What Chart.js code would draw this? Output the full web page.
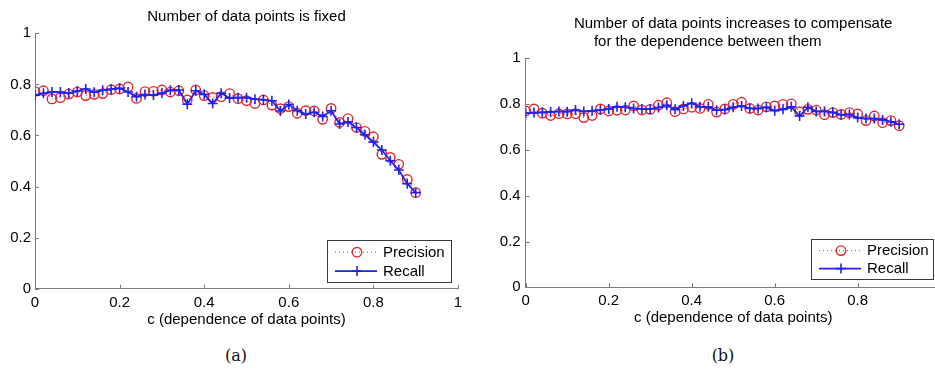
<!DOCTYPE html>
<html>
<head>
<meta charset="utf-8">
<script src="https://cdn.jsdelivr.net/npm/chart.js@4.4.0/dist/chart.umd.min.js"></script>
<style>
  html, body { margin: 0; padding: 0; background: #fff; }
  body { width: 935px; height: 371px; position: relative; overflow: hidden; }
  canvas { position: absolute; top: 0; }
  #chartA { left: 0; }
  #chartB { left: 490px; }
  .cap { position: absolute; top: 346px; width: 60px; text-align: center;
         font-family: 'DejaVu Serif', 'Liberation Serif', serif; font-size: 16px; color: #111; }
</style>
</head>
<body>
<canvas id="chartA" width="470" height="340"></canvas>
<canvas id="chartB" width="460" height="340"></canvas>
<div class="cap" style="left:206px">(a)</div>
<div class="cap" style="left:693px">(b)</div>
<script>
// c (dependence of data points)
const cValues = [0, 0.02, 0.04, 0.06, 0.08, 0.10, 0.12, 0.14, 0.16, 0.18,
  0.20, 0.22, 0.24, 0.26, 0.28, 0.30, 0.32, 0.34, 0.36, 0.38,
  0.40, 0.42, 0.44, 0.46, 0.48, 0.50, 0.52, 0.54, 0.56, 0.58,
  0.60, 0.62, 0.64, 0.66, 0.68, 0.70, 0.72, 0.74, 0.76, 0.78,
  0.80, 0.82, 0.84, 0.86, 0.88, 0.90];

// (a) number of data points is fixed
const precisionFixed = [0.772, 0.775, 0.743, 0.748, 0.762, 0.770, 0.756, 0.761, 0.764, 0.779,
  0.782, 0.790, 0.745, 0.772, 0.773, 0.778, 0.770, 0.775, 0.739, 0.778,
  0.756, 0.749, 0.752, 0.764, 0.744, 0.736, 0.725, 0.739, 0.719, 0.705,
  0.713, 0.687, 0.697, 0.696, 0.663, 0.706, 0.651, 0.666, 0.631, 0.616,
  0.595, 0.526, 0.514, 0.487, 0.428, 0.376];
const recallFixed = [0.758, 0.765, 0.770, 0.770, 0.766, 0.774, 0.782, 0.769, 0.777, 0.781,
  0.785, 0.770, 0.752, 0.760, 0.758, 0.766, 0.777, 0.778, 0.722, 0.775,
  0.761, 0.725, 0.765, 0.747, 0.748, 0.748, 0.742, 0.740, 0.736, 0.696,
  0.721, 0.697, 0.684, 0.691, 0.674, 0.697, 0.645, 0.653, 0.631, 0.603,
  0.574, 0.543, 0.501, 0.465, 0.411, 0.376];

// (b) number of data points increases
const precisionGrow = [0.770, 0.779, 0.760, 0.750, 0.758, 0.757, 0.758, 0.741, 0.750, 0.779,
  0.770, 0.773, 0.774, 0.792, 0.774, 0.777, 0.795, 0.806, 0.767, 0.779,
  0.786, 0.781, 0.799, 0.765, 0.779, 0.799, 0.808, 0.781, 0.774, 0.788,
  0.792, 0.799, 0.801, 0.767, 0.777, 0.774, 0.754, 0.763, 0.755, 0.763,
  0.757, 0.728, 0.748, 0.719, 0.728, 0.706];
const recallGrow = [0.760, 0.763, 0.764, 0.766, 0.768, 0.767, 0.774, 0.768, 0.771, 0.774,
  0.779, 0.788, 0.786, 0.781, 0.779, 0.779, 0.785, 0.795, 0.777, 0.792,
  0.804, 0.788, 0.788, 0.773, 0.776, 0.786, 0.792, 0.781, 0.781, 0.786,
  0.771, 0.777, 0.788, 0.748, 0.786, 0.768, 0.768, 0.764, 0.753, 0.755,
  0.741, 0.737, 0.737, 0.731, 0.723, 0.712];

const xTicks = [0, 0.2, 0.4, 0.6, 0.8, 1];
const yTicks = [0, 0.2, 0.4, 0.6, 0.8, 1];
const xLabel = 'c (dependence of data points)';
const titleA = ['Number of data points is fixed'];
const titleB = ['Number of data points increases to compensate', 'for the dependence between them'];

const RED = '#e3262a';
const BLUE = '#1f22f2';
const AXIS = '#7a7a7a';
const TEXT = '#000';
const FONT = "'Liberation Sans', Arial, sans-serif";

Chart.defaults.font.family = FONT;
Chart.defaults.font.size = 15;
Chart.defaults.color = TEXT;

function pts(ys) {
  return cValues.map((x, i) => ({ x, y: ys[i] }));
}

function fmt(v) {
  return v === 0 || v === 1 ? String(v) : v.toFixed(1);
}

// matlab style: ticks inside the axes, title centred on the axes, legend box in the corner
const matlabLook = {
  id: 'matlabLook',
  afterDraw(chart, args, opts) {
    const { ctx, chartArea: a } = chart;
    const xs = chart.scales.x, ys = chart.scales.y;
    ctx.save();
    ctx.strokeStyle = AXIS;
    ctx.lineWidth = 1;
    ctx.beginPath();
    xTicks.forEach(v => {
      const px = Math.round(xs.getPixelForValue(v)) + 0.5;
      ctx.moveTo(px, a.bottom);
      ctx.lineTo(px, a.bottom - 4);
    });
    yTicks.forEach(v => {
      const py = Math.round(ys.getPixelForValue(v)) + 0.5;
      ctx.moveTo(a.left, py);
      ctx.lineTo(a.left + 4, py);
    });
    ctx.stroke();

    // title
    ctx.fillStyle = TEXT;
    ctx.font = `15px ${FONT}`;
    ctx.textBaseline = 'middle';
    const cx = (a.left + a.right) / 2;
    const w0 = ctx.measureText(opts.lines[0]).width;
    const x0 = cx - w0 / 2;
    ctx.textAlign = 'left';
    opts.lines.forEach((line, i) => {
      ctx.fillText(line, x0 + (i ? opts.indent : 0), opts.titleY + i * 17.5);
    });

    // legend
    const bw = opts.box[0], bh = opts.box[1];
    const bx = a.right - opts.box[2] - bw, by = a.bottom - opts.box[3] - bh;
    ctx.fillStyle = '#fff';
    ctx.fillRect(bx, by, bw, bh);
    ctx.strokeStyle = '#3a3a3a';
    ctx.lineWidth = 1;
    ctx.strokeRect(Math.round(bx) + 0.5, Math.round(by) + 0.5, Math.round(bw), Math.round(bh));
    const rows = [by + bh * 0.29, by + bh * 0.74];
    const lx0 = bx + 8, lx1 = bx + 50, mx = bx + 30;
    chart.data.datasets.slice().sort((p, q) => q.order - p.order).forEach((ds, i) => {
      const ry = rows[i];
      ctx.strokeStyle = ds.borderColor;
      ctx.lineWidth = ds.borderWidth;
      ctx.setLineDash(ds.borderDash || []);
      ctx.beginPath();
      ctx.moveTo(lx0, ry);
      ctx.lineTo(lx1, ry);
      ctx.stroke();
      ctx.setLineDash([]);
      ctx.strokeStyle = ds.pointBorderColor;
      ctx.lineWidth = ds.pointBorderWidth;
      ctx.beginPath();
      if (ds.pointStyle === 'circle') {
        ctx.arc(mx, ry, ds.pointRadius, 0, Math.PI * 2);
      } else {
        ctx.moveTo(mx - ds.pointRadius, ry); ctx.lineTo(mx + ds.pointRadius, ry);
        ctx.moveTo(mx, ry - ds.pointRadius); ctx.lineTo(mx, ry + ds.pointRadius);
      }
      ctx.stroke();
      ctx.fillStyle = TEXT;
      ctx.fillText(ds.label, bx + 56, ry + 0.5);
    });
    ctx.restore();
  }
};

function buildChart(id, precision, recall, o) {
  return new Chart(document.getElementById(id), {
    type: 'line',
    data: {
      datasets: [
        {
          label: 'Precision', data: pts(precision), order: 1,
          borderColor: RED, borderWidth: 1, borderDash: [1, 3],
          pointStyle: 'circle', pointRadius: 4.7, pointBorderColor: RED,
          pointBackgroundColor: 'rgba(0,0,0,0)', pointBorderWidth: 1.4
        },
        {
          label: 'Recall', data: pts(recall), order: 0,
          borderColor: BLUE, borderWidth: 1.8,
          pointStyle: 'cross', pointRadius: 5, pointBorderColor: BLUE,
          pointBorderWidth: 1.6
        }
      ]
    },
    options: {
      responsive: false,
      animation: false,
      events: [],
      layout: { padding: { top: o.top, right: o.right, bottom: 0, left: 0 } },
      plugins: {
        legend: { display: false },
        tooltip: { enabled: false },
        matlabLook: o.look
      },
      scales: {
        x: {
          type: 'linear', min: 0, max: 1,
          afterBuildTicks: s => { s.ticks = xTicks.map(v => ({ value: v })); },
          afterFit: s => { s.height = o.xHeight; },
          grid: { display: false, drawTicks: false },
          border: { display: true, color: AXIS, width: 1 },
          ticks: { padding: o.xPad, maxRotation: 0, autoSkip: false, callback: v => fmt(v) },
          title: { display: true, text: xLabel, padding: { top: 0, bottom: o.titlePad } }
        },
        y: {
          type: 'linear', min: 0, max: 1,
          afterBuildTicks: s => { s.ticks = yTicks.map(v => ({ value: v })); },
          afterFit: s => { s.width = o.yWidth; },
          grid: { display: false, drawTicks: false },
          border: { display: true, color: AXIS, width: 1 },
          ticks: { padding: o.yPad, callback: v => fmt(v) }
        }
      }
    },
    plugins: [matlabLook]
  });
}

buildChart('chartA', precisionFixed, recallFixed, {
  top: 33.3, right: 12, xHeight: 51.3, yWidth: 35, xPad: 5.5, yPad: 4, titlePad: 11,
  look: { lines: titleA, indent: 0, titleY: 16.5, box: [124, 42, 7, 6.7] }
});

buildChart('chartB', precisionGrow, recallGrow, {
  top: 58.3, right: 9.3, xHeight: 52.7, yWidth: 35.7, xPad: 4.5, yPad: 5, titlePad: 12.7,
  look: { lines: titleB, indent: 20, titleY: 24.2, box: [122, 40, 7.7, 8.3] }
});
</script>
</body>
</html>
